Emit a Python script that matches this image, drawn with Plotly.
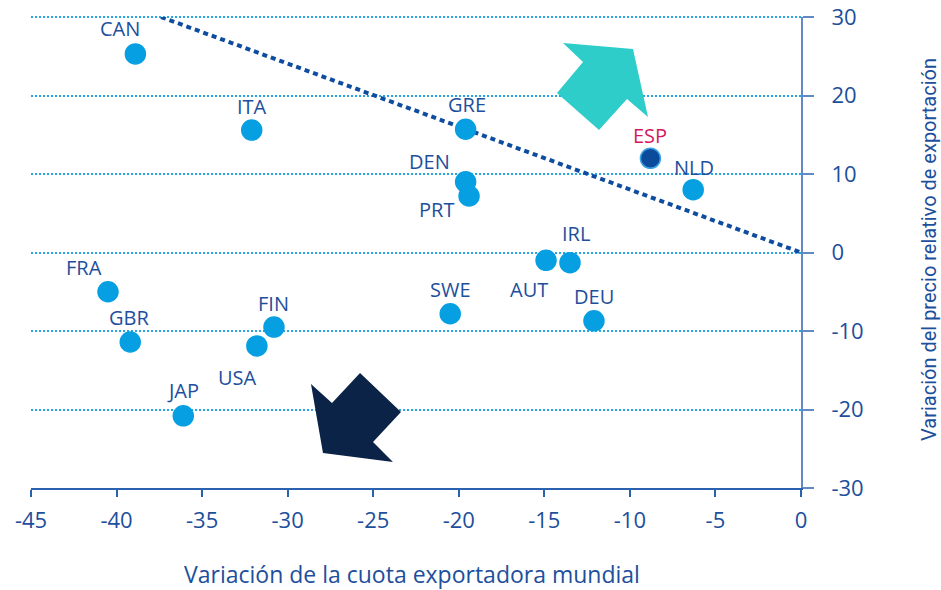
import plotly.graph_objects as go

# Countries and their values (x: cuota exportadora, y: precio relativo)
countries = ["CAN", "ITA", "GRE", "ESP", "NLD", "DEN", "PRT", "IRL",
             "AUT", "SWE", "DEU", "FRA", "FIN", "GBR", "USA", "JAP"]
cuota = [-38.9, -32.1, -19.6, -8.8, -6.3, -19.6, -19.4, -13.5,
         -14.9, -20.5, -12.1, -40.5, -30.8, -39.2, -31.8, -36.1]
precio = [25.3, 15.6, 15.7, 12.0, 8.0, 9.0, 7.2, -1.3,
          -1.0, -7.8, -8.7, -5.0, -9.5, -11.4, -11.9, -20.8]

# dotted reference line
trend_x = [-37.4, 0]
trend_y = [30, 0]

x_ticks = [-45, -40, -35, -30, -25, -20, -15, -10, -5, 0]
y_ticks = [30, 20, 10, 0, -10, -20, -30]

W, H = 941, 590
L, R, T, B = 31, 801, 17, 488  # plot area in pixels

TEXT = "#1d4f9c"
DOT = "#069fe2"
GRID = "#27a6e2"

# label offsets in pixels (dx, dy) relative to the marker, screen coords
label_offsets = {
    "CAN": (-15, -25), "ITA": (0, -24), "GRE": (1, -25), "ESP": (0, -23),
    "NLD": (1, -22), "DEN": (-36, -20), "PRT": (-33, 14), "IRL": (6, -29),
    "AUT": (-17, 29), "SWE": (0, -24), "DEU": (0, -24), "FRA": (-24, -24),
    "FIN": (0, -24), "GBR": (-1, -24), "USA": (-19, 32), "JAP": (0, -25),
}


def to_paper(px, py):
    return (px - L) / (R - L), 1 - (py - T) / (B - T)


def block_arrow(points, color):
    pts = [to_paper(px, py) for px, py in points]
    path = "M " + " L ".join(f"{x:.4f},{y:.4f}" for x, y in pts) + " Z"
    return dict(type="path", xref="paper", yref="paper", path=path,
                fillcolor=color, line=dict(width=0), layer="above")


fig = go.Figure()

fig.add_trace(go.Scatter(
    x=trend_x, y=trend_y, mode="lines",
    line=dict(color="#0d4c9e", width=4, dash="5px,4px"),
    hoverinfo="skip", showlegend=False,
))

colors = ["#0c4a9c" if c == "ESP" else DOT for c in countries]
lines = ["#3aa2e3" if c == "ESP" else DOT for c in countries]
fig.add_trace(go.Scatter(
    x=cuota, y=precio, mode="markers", text=countries,
    marker=dict(size=20, color=colors, line=dict(color=lines, width=1.5)),
    showlegend=False, cliponaxis=False,
))

for c, xv, yv in zip(countries, cuota, precio):
    dx, dy = label_offsets[c]
    fig.add_annotation(
        x=xv, y=yv, text=c, showarrow=False, xshift=dx, yshift=-dy,
        font=dict(family="Open Sans", size=20,
                  color="#d4195f" if c == "ESP" else TEXT),
    )

# axis titles
tx, ty = to_paper(412, 574)
fig.add_annotation(x=tx, y=ty, xref="paper", yref="paper", showarrow=False,
                   xanchor="center", yanchor="middle",
                   text="Variación de la cuota exportadora mundial",
                   font=dict(family="Open Sans", size=23, color=TEXT))
tx, ty = to_paper(929, 250)
fig.add_annotation(x=tx, y=ty, xref="paper", yref="paper", showarrow=False,
                   xanchor="center", yanchor="middle",
                   text="Variación del precio relativo de exportación", textangle=-90,
                   font=dict(family="Liberation Sans Narrow, Roboto", size=20, color=TEXT))

fig.update_layout(
    width=W, height=H,
    margin=dict(l=L, r=W - R, t=T, b=H - B),
    paper_bgcolor="white", plot_bgcolor="white",
    font=dict(family="Open Sans", color=TEXT),
    shapes=[
        # top gridline (plotly drops grid lines sitting on the plot edge)
        dict(type="line", xref="paper", yref="paper", x0=0, x1=1,
             y0=1, y1=1, layer="below",
             line=dict(color=GRID, width=2, dash="2px,2px")),
        block_arrow([(563, 43), (633, 49), (648, 117), (627, 99),
                     (599, 130), (557, 93), (583, 62)], "#2fcdca"),
        block_arrow([(323, 453), (311, 384), (332, 403), (360, 373),
                     (401, 412), (373, 442), (393, 462)], "#0b2347"),
    ],
)

fig.update_xaxes(
    range=[-45, 0], tickvals=x_ticks, ticktext=[str(v) for v in x_ticks],
    showgrid=False, zeroline=False, automargin=False,
    showline=True, linecolor="#2b62b0", linewidth=1.5,
    ticks="outside", ticklen=7, tickcolor="#2b62b0", tickwidth=1.5,
    tickfont=dict(size=22, color=TEXT), ticklabelstandoff=5,
    ticklabeloverflow="allow",
)
fig.update_yaxes(
    range=[-30, 30], tickvals=y_ticks, ticktext=[str(v) for v in y_ticks],
    side="right", zeroline=False, automargin=False,
    showgrid=True, gridcolor=GRID, gridwidth=2, griddash="2px,2px",
    showline=True, linecolor="#6389c4", linewidth=2,
    ticks="outside", ticklen=11, tickcolor="#6389c4", tickwidth=1.5,
    tickfont=dict(size=22, color=TEXT), ticklabelstandoff=13,
    ticklabeloverflow="allow",
)

# drop the default page margin so the figure fills the window exactly
fig.write_html("out.html", config={"displayModeBar": False},
               post_script="document.body.style.margin='0';"
                           "document.body.style.overflow='hidden';")
